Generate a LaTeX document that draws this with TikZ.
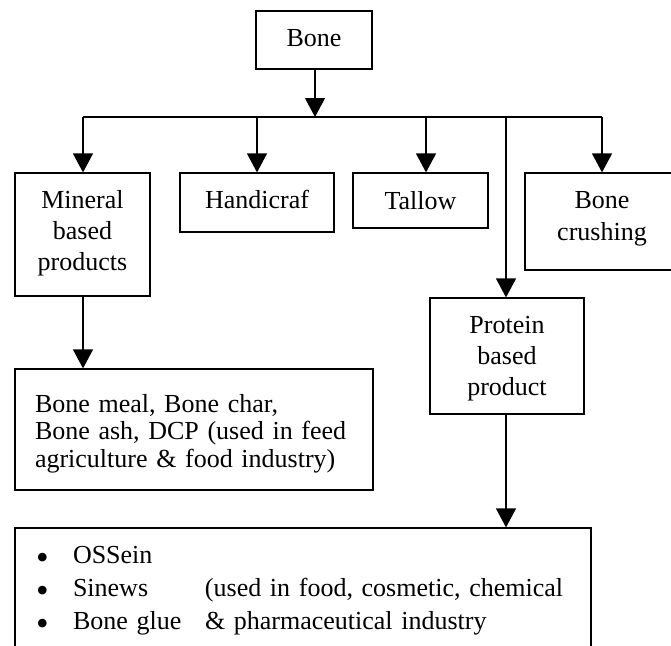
\documentclass[tikz,border=0pt]{standalone}
\usepackage{fontspec}
\setmainfont{Liberation Serif}
\usetikzlibrary{arrows.meta}
\newcommand{\bigbul}{\smash{\fontsize{36pt}{36pt}\selectfont\raisebox{-6.5pt}{•}}}
\begin{document}
\begin{tikzpicture}[x=1pt,y=-1pt,
  box/.style={draw, line width=1.2pt, inner sep=0pt, font=\fontsize{26pt}{31pt}\selectfont, align=center},
  arr/.style={line width=1.2pt, -{Triangle[length=19pt,width=20pt]}},
  ln/.style={line width=1.2pt}]
\useasboundingbox (0,0) rectangle (671,645);
\clip (0,0) rectangle (671,645);
% boxes
\node[box, minimum width=116pt, minimum height=58pt, text height=18pt, text depth=6pt] (bone) at (314,40) {Bone};
\node[box, minimum width=135pt, minimum height=123pt, text height=80pt, text depth=9pt] (mineral) at (82.5,234.5) {Mineral\\based\\products};
\node[box, minimum width=154pt, minimum height=59pt, text height=18pt, text depth=7pt] (handi) at (257,202.5) {Handicraf};
\node[box, minimum width=135pt, minimum height=55pt, text height=22pt, text depth=5pt] (tallow) at (420.5,200.5) {Tallow};
\node[box, minimum width=154pt, minimum height=97pt, text height=45pt, text depth=8pt, font=\fontsize{26pt}{32pt}\selectfont] (crush) at (602,221.5) {Bone\\crushing};
\node[box, minimum width=154pt, minimum height=116pt, text height=86pt, text depth=8pt] (protein) at (507,356) {Protein\\based\\product};
\node[box, minimum width=358pt, minimum height=121pt, text height=18pt, text depth=53pt, inner xsep=20pt, text width=318pt, align=left, font=\fontsize{26pt}{27.5pt}\selectfont] (bonemeal) at (194,429.5) {\mbox{Bone meal, Bone char,}\\\mbox{Bone ash, DCP (used in feed}\\\mbox{agriculture \& food industry)}};
\node[box, minimum width=576pt, minimum height=150pt, text height=18pt, text depth=98pt, inner xsep=21pt, text width=534pt, align=left, font=\fontsize{26pt}{33pt}\selectfont] (uses) at (303,603) {\mbox{\makebox[37pt][l]{\bigbul}OSSein}\\\mbox{\makebox[37pt][l]{\bigbul}\makebox[132pt][l]{Sinews}(used in food, cosmetic, chemical}\\\mbox{\makebox[37pt][l]{\bigbul}\makebox[132pt][l]{Bone glue}\& pharmaceutical industry}};
% distribution bar
\coordinate (b1) at (83,117);
\coordinate (b2) at (257,117);
\coordinate (bj) at (315,117);
\coordinate (b3) at (426,117);
\coordinate (b4) at (506,117);
\coordinate (b5) at (602,117);
\draw[ln] (b1) -- (b5);
\draw[arr] (bj |- bone.south) -- (bj);
\draw[arr] (b1) -- (b1 |- mineral.north);
\draw[arr] (b2) -- (b2 |- handi.north);
\draw[arr] (b3) -- (b3 |- tallow.north);
\draw[arr] (b5) -- (b5 |- crush.north);
\draw[arr] (b4) -- (b4 |- protein.north);
\draw[arr] (b1 |- mineral.south) -- (b1 |- bonemeal.north);
\draw[arr] (b4 |- protein.south) -- (b4 |- uses.north);
\end{tikzpicture}
\end{document}
